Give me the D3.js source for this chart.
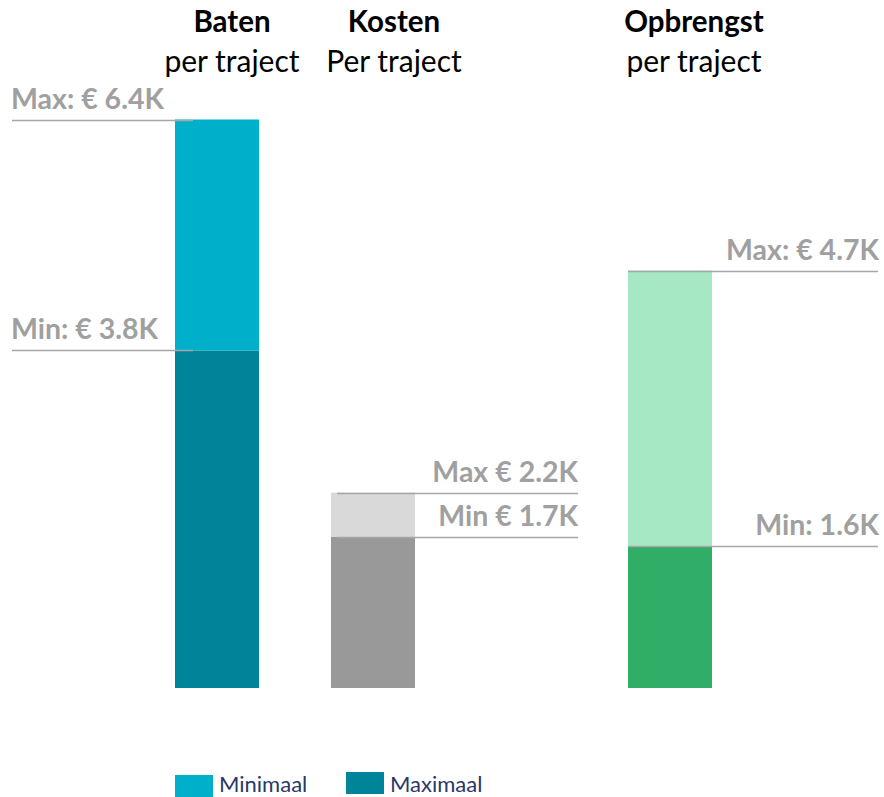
<!DOCTYPE html>
<html>
<head>
<meta charset="utf-8">
<script src="https://cdn.jsdelivr.net/npm/d3@7"></script>
<style>
  html, body { margin: 0; padding: 0; background: #fff; }
  svg { display: block; font-family: Lato, "Open Sans", sans-serif; }
</style>
</head>
<body>
<svg id="chart" width="884" height="797"></svg>
<script>
// Per-traject ranges, in thousands of euros
const categories = ["Baten", "Kosten", "Opbrengst"];
const subtitles = ["per traject", "Per traject", "per traject"];
const minValues = [3.8, 1.7, 1.6];
const maxValues = [6.4, 2.2, 4.7];
const minLabels = ["Min: € 3.8K", "Min € 1.7K", "Min: 1.6K"];
const maxLabels = ["Max: € 6.4K", "Max € 2.2K", "Max: € 4.7K"];
const legendLabels = ["Minimaal", "Maximaal"];

const lowColors = ["#00849a", "#999999", "#30ad66"];
const highColors = ["#00b0ca", "#d9d9d9", "#a6e7c4"];
const legendColors = ["#00b0ca", "#00849a"];

const svg = d3.select("#chart");

const y = d3.scaleLinear().domain([0, 6.4]).range([688, 119.5]);
const x = d3.scaleOrdinal().domain(categories).range([175, 331, 628]);
const barW = 84;

// label placement per column: side of the bar the guide lines extend to
const guides = [
  { x1: 12, x2: 193, anchor: "start", tx: 11 },
  { x1: 337, x2: 578, anchor: "end", tx: 578 },
  { x1: 628, x2: 878, anchor: "end", tx: 879 }
];
const titleCx = [232, 394, 694];

const data = categories.map((c, i) => ({
  c, i, min: minValues[i], max: maxValues[i]
}));

// lower segment: 0 → min
svg.append("g").selectAll("rect.low").data(data).join("rect")
  .attr("x", d => x(d.c))
  .attr("width", barW)
  .attr("y", d => y(d.min))
  .attr("height", d => y(0) - y(d.min))
  .attr("fill", d => lowColors[d.i]);

// upper segment: min → max
svg.append("g").selectAll("rect.high").data(data).join("rect")
  .attr("x", d => x(d.c))
  .attr("width", barW)
  .attr("y", d => y(d.max))
  .attr("height", d => y(d.min) - y(d.max))
  .attr("fill", d => highColors[d.i]);

// guide lines and value labels
const marks = [];
data.forEach(d => {
  marks.push({ i: d.i, v: d.max, text: maxLabels[d.i] });
  marks.push({ i: d.i, v: d.min, text: minLabels[d.i] });
});

svg.append("g").selectAll("line").data(marks).join("line")
  .attr("x1", d => guides[d.i].x1)
  .attr("x2", d => guides[d.i].x2)
  .attr("y1", d => Math.round(y(d.v)) + 0.5)
  .attr("y2", d => Math.round(y(d.v)) + 0.5)
  .attr("stroke", "#a6a6a6")
  .attr("stroke-width", 1.5);

svg.append("g").selectAll("text").data(marks).join("text")
  .attr("x", d => guides[d.i].tx)
  .attr("y", d => y(d.v) - 11)
  .attr("text-anchor", d => guides[d.i].anchor)
  .attr("font-size", 28.5)
  .attr("font-weight", 700)
  .attr("fill", "#a0a0a0")
  .text(d => d.text);

// column titles
const titles = svg.append("g").selectAll("g").data(data).join("g");
titles.append("text")
  .attr("x", d => titleCx[d.i])
  .attr("y", 32)
  .attr("text-anchor", "middle")
  .attr("font-size", 29.5)
  .attr("font-weight", 700)
  .attr("fill", "#000")
  .text(d => d.c);
titles.append("text")
  .attr("x", d => titleCx[d.i])
  .attr("y", 72)
  .attr("text-anchor", "middle")
  .attr("font-size", 30)
  .attr("fill", "#000")
  .text(d => subtitles[d.i]);

// legend
const legendX = [175, 346];
const legendY = [775, 772];
const lg = svg.append("g").selectAll("g").data(legendLabels).join("g");
lg.append("rect")
  .attr("x", (d, i) => legendX[i])
  .attr("y", (d, i) => legendY[i])
  .attr("width", 38)
  .attr("height", 22)
  .attr("fill", (d, i) => legendColors[i]);
lg.append("text")
  .attr("x", (d, i) => legendX[i] + 44)
  .attr("y", 792)
  .attr("font-size", 22)
  .attr("fill", "#2b3868")
  .text(d => d);
</script>
</body>
</html>
